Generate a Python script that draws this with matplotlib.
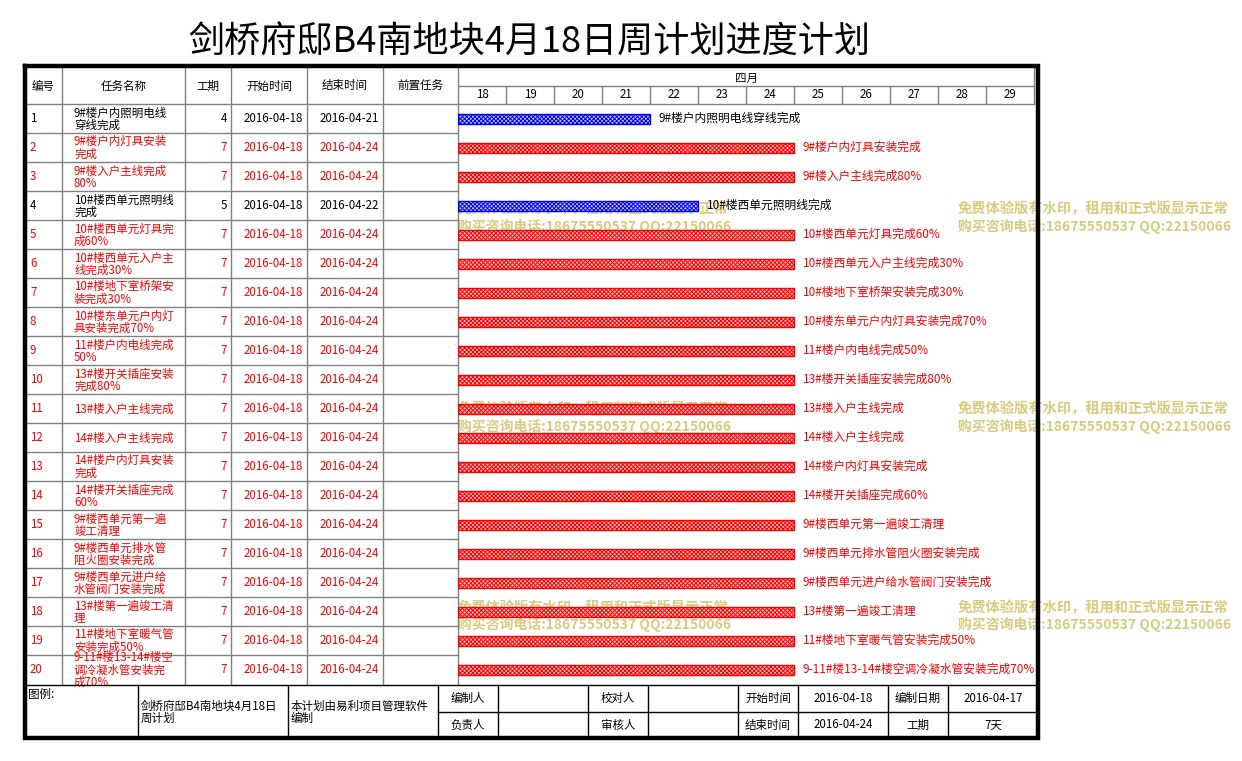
"""
Weekly Gantt plan sheet (剑桥府邸B4南地块 4月18日周计划), redrawn as a table + bar chart.
The table is laid out in pixel coordinates on a full-figure axes; the bars live in
their own axes whose x is the day of April and y is the task row.
"""
import matplotlib
matplotlib.use("Agg")
import matplotlib.pyplot as plt
from matplotlib.transforms import blended_transform_factory
import pandas as pd

plt.rcParams["font.family"] = ["Noto Sans CJK SC", "DejaVu Sans"]
plt.rcParams["hatch.linewidth"] = 0.7

# ---------------------------------------------------------------------------
# Data
# ---------------------------------------------------------------------------
title = "剑桥府邸B4南地块4月18日周计划进度计划"
col_heads = ["编号", "任务名称", "工期", "开始时间", "结束时间", "前置任务"]
month_label = "四月"
days = list(range(18, 30))

task_ids = list(range(1, 21))
task_names = [
    "9#楼户内照明电线\n穿线完成",
    "9#楼户内灯具安装\n完成",
    "9#楼入户主线完成\n80%",
    "10#楼西单元照明线\n完成",
    "10#楼西单元灯具完\n成60%",
    "10#楼西单元入户主\n线完成30%",
    "10#楼地下室桥架安\n装完成30%",
    "10#楼东单元户内灯\n具安装完成70%",
    "11#楼户内电线完成\n50%",
    "13#楼开关插座安装\n完成80%",
    "13#楼入户主线完成",
    "14#楼入户主线完成",
    "14#楼户内灯具安装\n完成",
    "14#楼开关插座完成\n60%",
    "9#楼西单元第一遍\n竣工清理",
    "9#楼西单元排水管\n阻火圈安装完成",
    "9#楼西单元进户给\n水管阀门安装完成",
    "13#楼第一遍竣工清\n理",
    "11#楼地下室暖气管\n安装完成50%",
    "9-11#楼13-14#楼空\n调冷凝水管安装完\n成70%",
]
durations = [4, 7, 7, 5] + [7] * 16
start_dates = ["2016-04-18"] * 20
end_dates = ["2016-04-21", "2016-04-24", "2016-04-24", "2016-04-22"] + ["2016-04-24"] * 16
is_blue = [True, False, False, True] + [False] * 16   # black text / blue bar rows

footer_legend = "图例:"
footer_name = "剑桥府邸B4南地块4月18日\n周计划"
footer_soft = "本计划由易利项目管理软件\n编制"
footer_top = ["编制人", "", "校对人", "", "开始时间", "2016-04-18", "编制日期", "2016-04-17"]
footer_bot = ["负责人", "", "审核人", "", "结束时间", "2016-04-24", "工期", "7天"]

wm_line1 = "免费体验版有水印，租用和正式版显示正常"
wm_line2 = "购买咨询电话:18675550537 QQ:22150066"
wm_rows_y = [209, 409, 608]          # watermark line-1 centre heights

# ---------------------------------------------------------------------------
# Layout (pixels)
# ---------------------------------------------------------------------------
W, H = 1242, 761
col_x = [24, 62, 185, 231, 307, 383, 458]
G0, G1 = 458, 1034                    # gantt x-span
HEAD_TOP, MONTH_BOT, HEAD_BOT = 68, 86, 104
ROW_H = 29
TAB_BOT = HEAD_BOT + ROW_H * len(task_ids)
FOOT_TOP, FOOT_MID, FOOT_BOT = 685, 712, 738
foot_x = [438, 498, 588, 648, 738, 798, 888, 948, 1038]

RED, BLUE, GRID = "#ff0000", "#0000ff", "#808080"
WM = "#d8cb7e"
FS = 8.3

start_day = pd.to_datetime(pd.Series(start_dates)).dt.day.values

fig = plt.figure(figsize=(W / 100, H / 100), dpi=100)
base = fig.add_axes([0, 0, 1, 1])
base.set_xlim(0, W)
base.set_ylim(H, 0)
base.axis("off")

# title
base.text(529, 43, title, fontsize=26, ha="center", va="center", color="black")

# ---- watermarks (under the border and under the bars) ----
for yy in wm_rows_y:
    for xx in (G0, 958):
        base.text(xx, yy, wm_line1, fontsize=10.3, fontweight="bold", color=WM,
                  ha="left", va="center", zorder=1)
        base.text(xx, yy + 17, wm_line2, fontsize=10.0, fontweight="bold", color=WM,
                  ha="left", va="center", zorder=1)

# ---- table grid ----
lw = 1.0
for x in col_x:
    base.plot([x, x], [HEAD_TOP, TAB_BOT], color=GRID, lw=lw, zorder=2)
base.plot([24, G1], [HEAD_BOT, HEAD_BOT], color=GRID, lw=lw, zorder=2)
base.plot([G0, G1], [MONTH_BOT, MONTH_BOT], color=GRID, lw=lw, zorder=2)
base.plot([G1, G1], [HEAD_TOP, HEAD_BOT], color=GRID, lw=lw, zorder=2)
for i in range(1, len(task_ids)):
    y = HEAD_BOT + i * ROW_H
    base.plot([24, G0], [y, y], color=GRID, lw=lw, zorder=2)

# column headers
for h, x0, x1 in zip(col_heads, col_x[:-1], col_x[1:]):
    base.text((x0 + x1) / 2, (HEAD_TOP + HEAD_BOT) / 2, h, fontsize=FS,
              ha="center", va="center")
base.text((G0 + G1) / 2, (HEAD_TOP + MONTH_BOT) / 2 + 1, month_label, fontsize=FS,
          ha="center", va="center")

# table rows
for i, (tid, nm, du, sd, ed, blue) in enumerate(
        zip(task_ids, task_names, durations, start_dates, end_dates, is_blue)):
    yc = HEAD_BOT + i * ROW_H + ROW_H / 2
    c = "black" if blue else RED
    base.text(col_x[0] + 6, yc, str(tid), fontsize=FS, color=c, ha="left", va="center")
    base.text(col_x[1] + 12, yc + 0.5, nm, fontsize=FS, color=c, ha="left", va="center",
              linespacing=0.92)
    base.text(col_x[3] - 4, yc, str(du), fontsize=FS, color=c, ha="right", va="center")
    base.text(col_x[4] - 4, yc, sd, fontsize=FS, color=c, ha="right", va="center")
    base.text(col_x[5] - 4, yc, ed, fontsize=FS, color=c, ha="right", va="center")

# ---- footer ----
base.plot([24, 1038], [FOOT_TOP, FOOT_TOP], color="black", lw=lw, zorder=3)
base.plot([foot_x[0], 1038], [FOOT_MID, FOOT_MID], color="black", lw=lw, zorder=3)
for x in [138, 288] + foot_x[:-1]:
    base.plot([x, x], [FOOT_TOP, FOOT_BOT], color="black", lw=lw, zorder=3)
base.text(28, FOOT_TOP + 3, footer_legend, fontsize=FS, ha="left", va="top")
base.text(141, 712, footer_name, fontsize=FS, ha="left", va="center", linespacing=0.92)
base.text(291, 712, footer_soft, fontsize=FS, ha="left", va="center", linespacing=0.92)
for k, (t, b) in enumerate(zip(footer_top, footer_bot)):
    xc = (foot_x[k] + foot_x[k + 1]) / 2
    base.text(xc, (FOOT_TOP + FOOT_MID) / 2, t, fontsize=FS, ha="center", va="center")
    base.text(xc, (FOOT_MID + FOOT_BOT) / 2, b, fontsize=FS, ha="center", va="center")

# outer thick border
base.plot([25, 1038, 1038, 25, 25], [66, 66, 738, 738, 66], color="black", lw=3.2,
          solid_joinstyle="miter", zorder=6)

# ---------------------------------------------------------------------------
# Gantt bars
# ---------------------------------------------------------------------------
gx = fig.add_axes([G0 / W, (H - TAB_BOT) / H, (G1 - G0) / W, (TAB_BOT - HEAD_BOT) / H])
gx.set_xlim(days[0], days[-1] + 1)
gx.set_ylim(len(task_ids), 0)
gx.axis("off")
gx.patch.set_visible(False)

# day numbers and separators in the header, placed on the gantt's x scale
hdr = blended_transform_factory(gx.transData, base.transData)
for d in days:
    base.text(d + 0.5, (MONTH_BOT + HEAD_BOT) / 2, str(d), fontsize=FS, ha="center",
              va="center", transform=hdr)
    if d > days[0]:
        base.plot([d, d], [MONTH_BOT, HEAD_BOT], color=GRID, lw=lw, transform=hdr)

bar_h = 10 / ROW_H
for i, (nm, s, du, blue) in enumerate(zip(task_names, start_day, durations, is_blue)):
    ec = BLUE if blue else RED
    fc = "#c4c4ff" if blue else "#ffc4c4"
    gx.barh(i + 0.5, du, left=s, height=bar_h, color=fc, edgecolor=ec, lw=1.0,
            hatch="xxxxxxxx")
    gx.text(s + du + 0.18, i + 0.5, nm.replace("\n", ""), fontsize=8.5,
            color="black" if blue else RED, ha="left", va="center", clip_on=False)

fig.savefig("out.png", dpi=100)
